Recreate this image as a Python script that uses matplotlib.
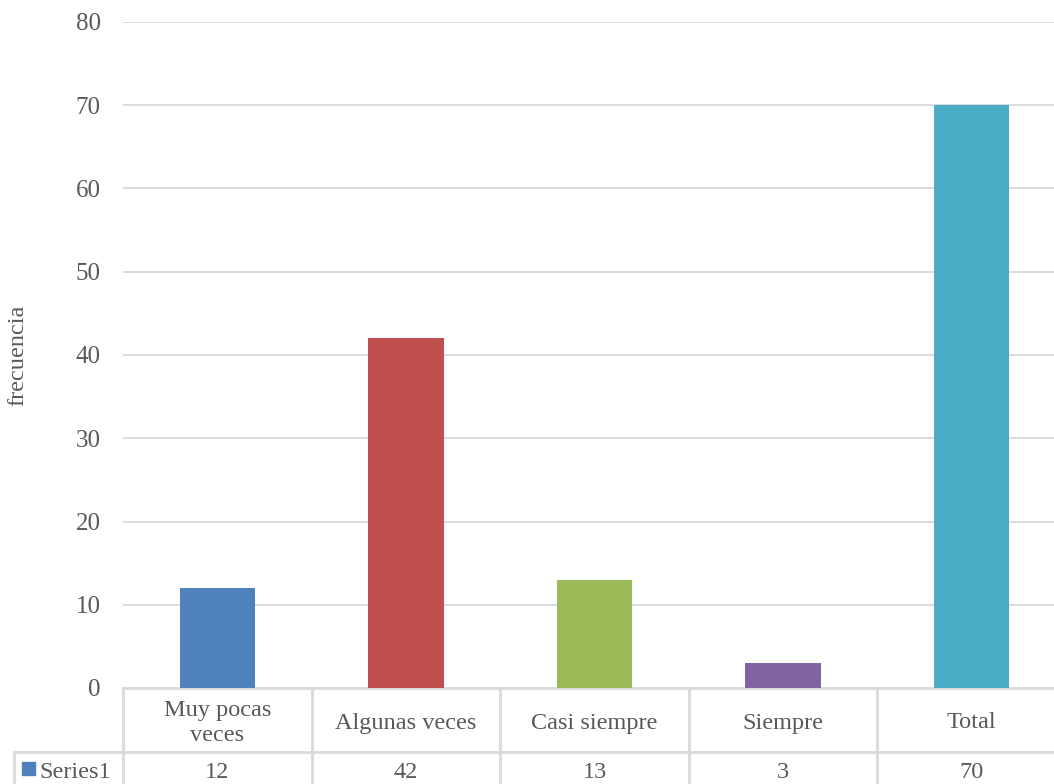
import matplotlib.pyplot as plt
from matplotlib.transforms import blended_transform_factory

# Chart data
categories = ["Muy pocas\nveces", "Algunas veces", "Casi siempre", "Siempre", "Total"]
values = [12, 42, 13, 3, 70]
colors = ["#4f81bd", "#c0504d", "#9bbb59", "#8064a2", "#4bacc6"]
series_name = "Series1"
yticks = [0, 10, 20, 30, 40, 50, 60, 70, 80]

W, H = 1054, 784
txt = "#595959"
grid = "#d9d9d9"
fs = 17.5
plt.rcParams['font.family'] = ['Liberation Serif', 'DejaVu Serif']

fig = plt.figure(figsize=(W / 100, H / 100), dpi=100)

# overlay axes in pixel coordinates for the data table
ov = fig.add_axes([0, 0, 1, 1])
ov.set_xlim(0, W)
ov.set_ylim(H, 0)
ov.axis("off")

# plot area runs a little past the right edge of the picture
ax = fig.add_axes([123 / W, 1 - 688 / H, (1066 - 123) / W, (688 - 22) / H])
x = list(range(len(values)))
ax.bar(x, values, width=0.40, color=colors, zorder=3)
ax.set_xlim(-0.5, len(values) - 0.5)
ax.set_ylim(0, 80)
ax.set_yticks(yticks)
ax.set_xticks([])
ax.grid(axis="y", color=grid, linewidth=1.3, zorder=0)
for s in ax.spines.values():
    s.set_visible(False)
ax.tick_params(axis="y", length=0, labelsize=18, labelcolor=txt, pad=16)
ov.text(18, 355, "frecuencia", rotation=90, ha="center", va="center",
        fontsize=fs, color=txt)

# data table below the axis
tr = blended_transform_factory(ax.transData, ov.transData)
row1_top, row2_top, bottom = 688, 752, H + 5
ov.plot([123, W], [row1_top, row1_top], color=grid, lw=2, clip_on=False)
ov.plot([14, W], [row2_top, row2_top], color=grid, lw=2, clip_on=False)
ov.plot([14, 14], [row2_top, bottom], color=grid, lw=2, clip_on=False)
for i in range(len(values) + 1):
    ov.plot([i - 0.5, i - 0.5], [row1_top, bottom], color=grid, lw=2,
            transform=tr, clip_on=False)
for i, (c, v) in enumerate(zip(categories, values)):
    ov.text(i, (row1_top + row2_top) / 2 + 3, c, transform=tr, ha="center",
            va="center", fontsize=fs, color=txt, linespacing=1.3)
    ov.text(i, (row2_top + H) / 2 + 4, str(v), transform=tr, ha="center",
            va="center", fontsize=fs, color=txt)
ov.add_patch(plt.Rectangle((22, 762), 13, 13, color=colors[0]))
ov.text(39, (row2_top + H) / 2 + 4, series_name, ha="left", va="center",
        fontsize=fs, color=txt)

fig.savefig("out.png", dpi=100)
